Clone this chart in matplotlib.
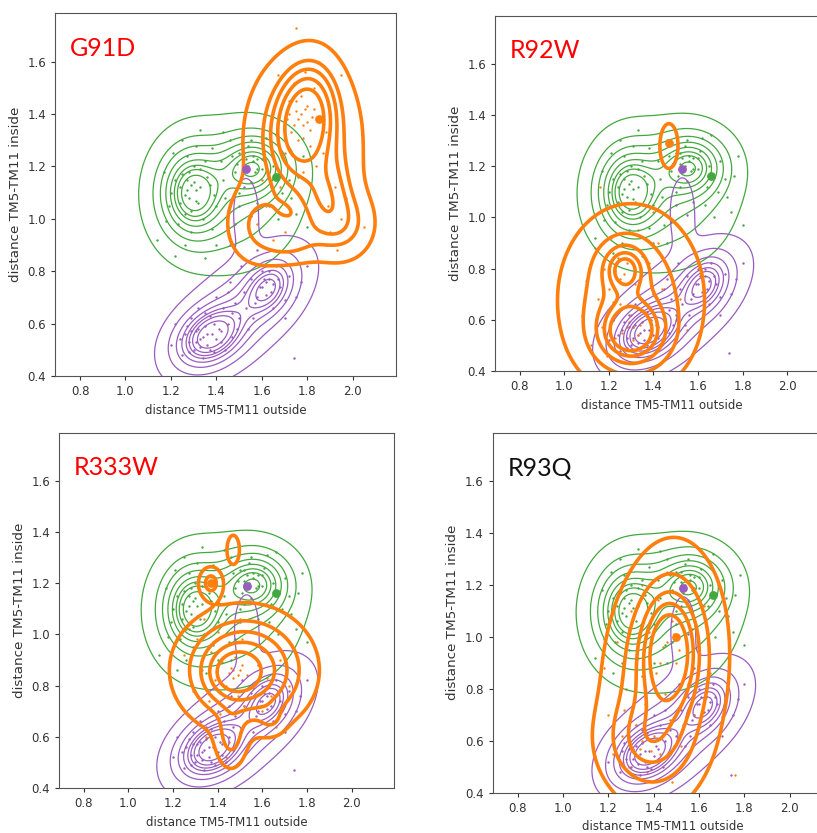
import numpy as np
import matplotlib
matplotlib.use('Agg')
import matplotlib.pyplot as plt

GREEN = '#43a83e'
PURPLE = '#9a5cc0'
ORANGE = '#ff7f0e'

panel_names = ['G91D', 'R92W', 'R333W', 'R93Q']
name_colors = ['#ff0000', '#ff0000', '#ff0000', '#111111']

# density blobs: (x, y, sx, sy, rho, weight)
green_blobs = [(1.29, 1.10, 0.09, 0.11, 0.0, 0.35),
               (1.57, 1.20, 0.10, 0.08, 0.0, 0.25),
               (1.45, 1.08, 0.17, 0.15, 0.0, 0.40)]
purple_blobs = [(1.37, 0.55, 0.09, 0.07, 0.3, 0.35),
                (1.63, 0.74, 0.07, 0.07, 0.3, 0.18),
                (1.51, 0.65, 0.16, 0.13, 0.6, 0.44),
                (1.53, 1.02, 0.04, 0.10, 0.0, 0.03)]
orange_blobs = {
    'G91D': [(1.79, 1.38, 0.07, 0.11, 0.15, 0.30),
             (1.78, 1.30, 0.13, 0.17, 0.0, 0.40),
             (1.88, 1.08, 0.07, 0.10, 0.0, 0.10),
             (1.96, 0.98, 0.08, 0.08, 0.0, 0.06),
             (1.58, 0.98, 0.08, 0.09, 0.0, 0.06),
             (1.72, 0.92, 0.08, 0.05, 0.0, 0.04)],
    'R92W': [(1.30, 0.55, 0.09, 0.075, 0.0, 0.32),
             (1.27, 0.80, 0.06, 0.06, 0.0, 0.12),
             (1.30, 0.68, 0.15, 0.17, 0.0, 0.53),
             (1.47, 1.28, 0.032, 0.068, 0.0, 0.009)],
    'R333W': [(1.48, 0.85, 0.055, 0.045, 0.0, 0.10),
              (1.52, 0.86, 0.14, 0.11, 0.0, 0.75),
              (1.46, 0.60, 0.04, 0.07, 0.0, 0.035),
              (1.64, 0.67, 0.035, 0.035, 0.0, 0.008),
              (1.37, 1.20, 0.03, 0.035, 0.0, 0.015),
              (1.47, 1.33, 0.022, 0.045, 0.0, 0.006)],
    'R93Q': [(1.45, 0.85, 0.13, 0.24, 0.15, 0.60),
             (1.47, 0.95, 0.07, 0.13, 0.0, 0.28),
             (1.37, 0.60, 0.11, 0.10, 0.0, 0.12)],
}

green_pts = [(1.14, 0.92), (1.17, 1.18), (1.19, 1.05), (1.21, 1.25), (1.22, 0.86),
             (1.24, 1.12), (1.25, 1.30), (1.26, 1.02), (1.27, 1.15), (1.28, 1.08),
             (1.29, 0.95), (1.30, 1.20), (1.31, 1.11), (1.33, 1.34), (1.34, 1.00),
             (1.36, 1.16), (1.38, 1.27), (1.40, 0.90), (1.42, 1.22), (1.44, 1.08),
             (1.46, 1.30), (1.48, 1.18), (1.50, 1.25), (1.52, 1.21), (1.54, 1.28),
             (1.55, 1.14), (1.56, 1.24), (1.58, 1.06), (1.60, 1.19), (1.62, 1.31),
             (1.64, 1.12), (1.67, 1.00), (1.70, 1.22), (1.73, 1.08), (1.76, 1.16),
             (1.80, 0.97), (1.23, 0.98), (1.27, 1.24), (1.32, 1.06), (1.37, 1.13),
             (1.45, 0.97), (1.53, 1.23), (1.57, 1.18), (1.61, 1.26), (1.26, 1.09),
             (1.30, 1.14), (1.20, 1.10), (1.35, 0.85), (1.66, 1.32), (1.78, 1.24),
             (1.29, 1.03), (1.33, 1.19), (1.25, 1.17), (1.51, 1.16), (1.58, 1.23),
             (1.55, 1.30), (1.47, 1.24), (1.69, 1.10), (1.40, 1.05), (1.18, 0.99),
             (1.27, 1.11), (1.29, 1.13), (1.31, 1.07), (1.24, 1.06), (1.33, 1.12),
             (1.28, 1.18), (1.35, 1.22), (1.22, 1.15), (1.54, 1.20), (1.56, 1.22),
             (1.52, 1.25), (1.58, 1.19), (1.49, 1.21), (1.60, 1.23), (1.43, 1.15),
             (1.39, 1.09), (1.65, 1.20), (1.72, 1.15), (1.38, 0.96), (1.26, 0.90),
             (1.43, 1.33), (1.31, 1.28), (1.63, 1.05), (1.75, 1.02), (1.50, 1.10)]
purple_pts = [(1.20, 0.52), (1.22, 0.60), (1.25, 0.48), (1.26, 0.56), (1.28, 0.53),
              (1.29, 0.62), (1.30, 0.50), (1.31, 0.57), (1.32, 0.66), (1.33, 0.54),
              (1.34, 0.47), (1.35, 0.59), (1.36, 0.52), (1.37, 0.63), (1.38, 0.56),
              (1.39, 0.49), (1.40, 0.70), (1.41, 0.58), (1.42, 0.53), (1.43, 0.66),
              (1.45, 0.60), (1.46, 0.76), (1.47, 0.55), (1.48, 0.68), (1.50, 0.62),
              (1.51, 0.82), (1.52, 0.72), (1.54, 0.58), (1.55, 0.77), (1.57, 0.68),
              (1.58, 0.88), (1.59, 0.74), (1.60, 0.80), (1.62, 0.71), (1.63, 0.77),
              (1.65, 0.66), (1.66, 0.82), (1.68, 0.74), (1.70, 0.62), (1.72, 0.78),
              (1.75, 0.70), (1.80, 0.82), (1.74, 0.47), (1.48, 0.98), (1.50, 1.05),
              (1.52, 1.12), (1.55, 1.01), (1.46, 0.90), (1.33, 0.51), (1.36, 0.56),
              (1.40, 0.54), (1.29, 0.57), (1.62, 0.76), (1.64, 0.72), (1.44, 0.50),
              (1.27, 0.59), (1.31, 0.53), (1.34, 0.55), (1.37, 0.50), (1.39, 0.60),
              (1.32, 0.58), (1.28, 0.49), (1.42, 0.57), (1.35, 0.64), (1.60, 0.74),
              (1.61, 0.77), (1.65, 0.75), (1.63, 0.80), (1.58, 0.70), (1.67, 0.77),
              (1.53, 0.66), (1.45, 0.72), (1.56, 0.62), (1.49, 0.58), (1.24, 0.54),
              (1.47, 0.64), (1.70, 0.69), (1.77, 0.76)]
orange_pts = {
    'G91D': [(1.58, 0.98), (1.62, 1.05), (1.65, 0.92), (1.68, 1.12), (1.70, 1.25),
             (1.71, 1.38), (1.72, 1.45), (1.73, 1.33), (1.74, 1.52), (1.75, 1.41),
             (1.76, 1.30), (1.77, 1.47), (1.78, 1.36), (1.79, 1.56), (1.80, 1.43),
             (1.81, 1.28), (1.82, 1.39), (1.83, 1.50), (1.84, 1.20), (1.86, 1.44),
             (1.88, 1.33), (1.89, 1.05), (1.90, 0.95), (1.92, 1.12), (1.93, 0.88),
             (1.95, 1.00), (1.97, 1.08), (1.99, 0.93), (2.02, 1.02), (2.05, 0.97),
             (1.75, 1.73), (1.85, 1.60), (1.95, 1.55), (1.67, 1.55), (1.78, 1.18),
             (1.70, 0.95), (1.60, 1.15), (1.87, 1.25), (1.76, 1.38), (1.79, 1.42),
             (1.74, 1.36), (1.81, 1.34), (1.77, 1.40), (1.80, 1.37), (1.75, 1.45),
             (1.83, 1.42), (1.72, 1.40), (1.78, 1.31)],
    'R92W': [(1.08, 0.62), (1.10, 0.75), (1.12, 0.50), (1.14, 0.88), (1.15, 0.68),
             (1.17, 0.57), (1.18, 0.80), (1.19, 0.46), (1.20, 0.72), (1.21, 0.92),
             (1.22, 0.60), (1.23, 0.53), (1.24, 0.84), (1.25, 0.66), (1.26, 0.49),
             (1.27, 0.78), (1.28, 0.57), (1.29, 0.86), (1.30, 0.62), (1.31, 0.52),
             (1.32, 0.74), (1.33, 0.95), (1.34, 0.58), (1.35, 0.68), (1.36, 0.48),
             (1.38, 0.82), (1.39, 0.55), (1.40, 0.63), (1.42, 0.90), (1.44, 0.72),
             (1.45, 0.52), (1.47, 0.80), (1.50, 0.60), (1.52, 0.68), (1.55, 0.56),
             (1.16, 1.12), (1.40, 1.02), (1.26, 0.55), (1.31, 0.57), (1.23, 0.79),
             (1.28, 0.82), (1.25, 0.76), (1.33, 0.54), (1.29, 0.59), (1.22, 0.67)],
    'R333W': [(1.25, 0.92), (1.27, 1.02), (1.29, 0.78), (1.31, 0.98), (1.33, 0.86),
              (1.34, 1.06), (1.36, 0.74), (1.37, 0.93), (1.39, 0.82), (1.40, 1.01),
              (1.41, 0.69), (1.42, 0.89), (1.43, 0.95), (1.44, 0.80), (1.45, 0.58),
              (1.46, 0.87), (1.47, 0.83), (1.48, 0.91), (1.49, 0.76), (1.50, 0.86),
              (1.51, 0.98), (1.52, 0.72), (1.53, 0.84), (1.55, 0.92), (1.56, 0.79),
              (1.58, 0.88), (1.60, 0.70), (1.62, 0.83), (1.64, 0.76), (1.66, 0.64),
              (1.68, 0.90), (1.72, 0.80), (1.76, 0.86), (1.44, 0.52), (1.50, 1.06),
              (1.35, 0.60), (1.47, 0.86), (1.49, 0.84), (1.45, 0.85), (1.51, 0.88),
              (1.38, 0.97), (1.57, 0.81)],
    'R93Q': [(1.18, 0.88), (1.20, 0.70), (1.22, 0.55), (1.24, 0.98), (1.26, 0.62),
             (1.28, 0.80), (1.29, 0.50), (1.30, 1.10), (1.32, 0.66), (1.33, 0.92),
             (1.34, 0.57), (1.35, 1.20), (1.36, 0.74), (1.37, 0.48), (1.38, 1.02),
             (1.40, 0.62), (1.41, 0.86), (1.42, 1.14), (1.43, 0.55), (1.44, 0.96),
             (1.45, 0.78), (1.46, 1.25), (1.47, 0.68), (1.48, 1.06), (1.50, 0.90),
             (1.52, 0.58), (1.53, 1.17), (1.55, 0.82), (1.57, 1.03), (1.58, 0.70),
             (1.60, 0.93), (1.62, 1.12), (1.65, 0.86), (1.68, 1.22), (1.76, 0.47),
             (1.48, 0.44), (1.27, 0.72), (1.35, 0.60), (1.39, 0.56), (1.46, 0.98),
             (1.49, 1.01), (1.43, 0.90), (1.51, 0.95)],
}

# big centre markers
purple_centre = (1.53, 1.19)
green_centre = (1.66, 1.16)
orange_centre = {'G91D': (1.85, 1.38), 'R92W': (1.47, 1.29),
                 'R333W': (1.37, 1.20), 'R93Q': (1.50, 1.00)}

# axes boxes in pixels: left, top, width, height
boxes = [(55, 13, 341, 363), (495, 16, 334.5, 355),
         (59, 433, 335, 355), (492.7, 432.7, 340, 360)]
W, H = 817, 833

gx = np.linspace(0.6, 2.3, 340)
gy = np.linspace(0.2, 2.0, 360)
X, Y = np.meshgrid(gx, gy)


def density(blobs):
    z = np.zeros_like(X)
    for mx, my, sx, sy, rho, w in blobs:
        dx = (X - mx) / sx
        dy = (Y - my) / sy
        q = (dx * dx - 2 * rho * dx * dy + dy * dy) / (1 - rho ** 2)
        z += w * np.exp(-0.5 * q) / (2 * np.pi * sx * sy * np.sqrt(1 - rho ** 2))
    return z


def iso_levels(z, props):
    v = np.sort(z.ravel())
    c = np.cumsum(v)
    c /= c[-1]
    return [v[np.searchsorted(c, p)] for p in props]


thin_props = [0.05, 0.17, 0.29, 0.41, 0.53, 0.65, 0.77, 0.89]
thick_props = [0.05, 0.2, 0.38, 0.56, 0.74]

fig = plt.figure(figsize=(W / 100, H / 100), dpi=100)

zg = density(green_blobs)
zp = density(purple_blobs)

for i, name in enumerate(panel_names):
    l, t, w, h = boxes[i]
    ax = fig.add_axes([l / W, 1 - (t + h) / H, w / W, h / H])

    ax.scatter(*zip(*green_pts), s=3, color=GREEN, linewidths=0, zorder=2)
    ax.scatter(*zip(*purple_pts), s=3, color=PURPLE, linewidths=0, zorder=2)
    ax.scatter(*zip(*orange_pts[name]), s=3, color=ORANGE, linewidths=0, zorder=2)

    ax.contour(X, Y, zg, levels=iso_levels(zg, thin_props), colors=GREEN,
               linewidths=0.9, zorder=3)
    ax.contour(X, Y, zp, levels=iso_levels(zp, thin_props), colors=PURPLE,
               linewidths=0.9, zorder=3)
    zo = density(orange_blobs[name])
    ax.contour(X, Y, zo, levels=iso_levels(zo, thick_props), colors=ORANGE,
               linewidths=2.6, zorder=4)

    ax.scatter(*green_centre, s=28, color=GREEN, zorder=5)
    ax.scatter(*purple_centre, s=28, color=PURPLE, zorder=5)
    ax.scatter(*orange_centre[name], s=28, color=ORANGE, zorder=5)

    ax.set_xlim(0.69, 2.19)
    ax.set_ylim(0.4, 1.786)
    ax.set_xticks([0.8, 1.0, 1.2, 1.4, 1.6, 1.8, 2.0])
    ax.set_yticks([0.4, 0.6, 0.8, 1.0, 1.2, 1.4, 1.6])
    ax.tick_params(labelsize=8.5, colors='#333333', length=3)
    for sp in ax.spines.values():
        sp.set_color('#555555')
    ax.set_xlabel('distance TM5-TM11 outside', fontsize=8.5, color='#333333')
    ax.set_ylabel('distance TM5-TM11 inside', fontsize=9.7, color='#333333')
    ax.text(0.045, 0.935, name, transform=ax.transAxes, ha='left', va='top',
            fontsize=18, color=name_colors[i], family='Lato')

fig.savefig('out.png', dpi=100)
